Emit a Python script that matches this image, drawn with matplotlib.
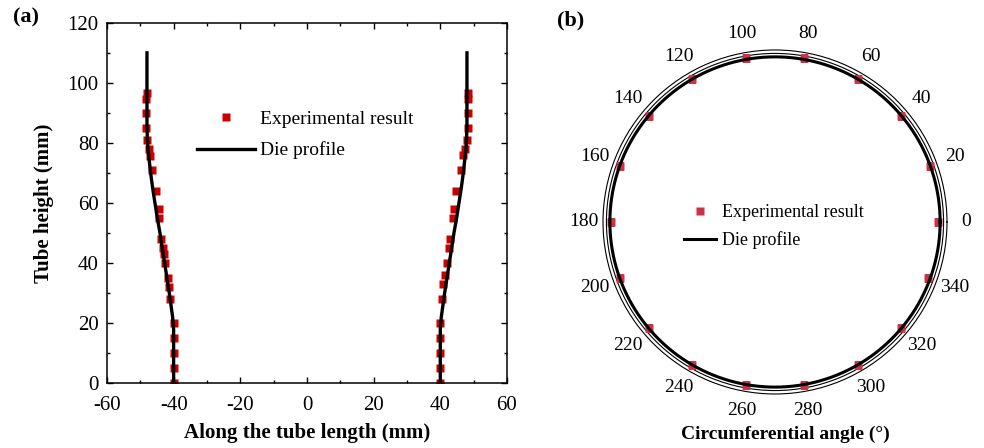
import numpy as np
import matplotlib
matplotlib.use('Agg')
import matplotlib.pyplot as plt
from matplotlib.ticker import MultipleLocator, FixedLocator

# ---- panel (a) data: tube profile along height ----
exp_height_left = [0, 5, 10, 15, 20, 28, 32, 35, 40, 43, 45, 48, 55, 58, 64, 71, 75.5, 78, 81, 85, 90, 94.5, 96.5]
exp_x_left = [-40, -40, -40, -40, -40, -41.0, -41.5, -41.8, -42.6, -43.0, -43.3, -43.9, -44.5, -44.3,
              -45.3, -46.5, -47.0, -47.5, -48.0, -48.2, -48.2, -48.2, -48.0]
exp_height_right = [0, 5, 10, 15, 20, 28, 33, 36, 40, 45, 48, 55, 58, 64, 71, 76, 78, 81, 85, 90, 94.5, 96.5]
exp_x_right = [40, 40, 40, 40, 40, 40.4, 40.9, 41.4, 41.9, 42.5, 42.8, 43.8, 44.1, 44.7,
               46.2, 46.9, 47.4, 48.1, 48.3, 48.3, 48.3, 48.2]

die_height = [0, 10, 18, 22, 26, 30, 35, 40, 45, 50, 55, 60, 65, 70, 74, 78, 82, 86, 90, 100, 110]
die_x = [40, 40, 40, 40.3, 40.8, 41.3, 42.0, 42.7, 43.4, 44.1, 44.9, 45.6, 46.3, 46.9, 47.3, 47.7,
         47.9, 48.0, 48.0, 48.0, 48.0]

# ---- panel (b) data: circumferential profile ----
exp_angle = [0, 20, 40, 60, 80, 100, 120, 140, 160, 180, 200, 220, 240, 260, 280, 300, 320, 340]
exp_radius = [47.5, 47.9, 48.0, 48.1, 48.3, 48.3, 48.0, 47.9, 47.8, 47.6, 47.8, 48.0, 48.1, 48.2,
              48.2, 48.0, 47.9, 47.3]
die_radius = 48
angle_labels = [str(a) for a in range(0, 360, 20)]

plt.rcParams['font.family'] = ['Liberation Serif', 'DejaVu Serif']
plt.rcParams['axes.unicode_minus'] = False

fig = plt.figure(figsize=(9.84, 4.48), dpi=100)

# ================= (a) =================
ax1 = fig.add_axes([0.1087, 0.145, 0.4065, 0.804])
ax1.plot(exp_x_left, exp_height_left, 's', color='#cc0000', markersize=6, mec='none',
         label='Experimental result')
ax1.plot(exp_x_right, exp_height_right, 's', color='#cc0000', markersize=6, mec='none')
ax1.plot([-v for v in die_x], die_height, color='black', linewidth=2.4, label='Die profile')
ax1.plot(die_x, die_height, color='black', linewidth=2.4)

ax1.set_xlim(-60, 60)
ax1.set_ylim(0, 120)
ax1.xaxis.set_major_locator(MultipleLocator(20))
ax1.xaxis.set_minor_locator(MultipleLocator(10))
ax1.yaxis.set_major_locator(MultipleLocator(20))
ax1.yaxis.set_minor_locator(MultipleLocator(10))
ax1.tick_params(which='both', direction='in', top=True, right=True, labelsize=15, width=1)
ax1.tick_params(which='major', length=4.5, pad=6)
ax1.tick_params(which='minor', length=2.5)
ax1.tick_params(axis='x', which='major', pad=9)
for s in ax1.spines.values():
    s.set_linewidth(1.1)
ax1.set_xlabel('Along the tube length (mm)', fontsize=15, fontweight='bold', labelpad=6)
ax1.set_ylabel('Tube height (mm)', fontsize=15, fontweight='bold', labelpad=10)
ax1.legend(loc='upper left', bbox_to_anchor=(0.225, 0.757), frameon=False, fontsize=14,
           handlelength=3.0, handletextpad=0.25, labelspacing=0.7, borderpad=0, borderaxespad=0)

fig.text(0.013, 0.962, '(a)', fontsize=16, fontweight='bold', va='center', ha='left')

# ================= (b) =================
ax2 = fig.add_axes([0.6128, 0.1205, 0.3496, 0.768], projection='polar')
ax2.plot(np.deg2rad(exp_angle), exp_radius, 's', color='#cc3344', markersize=6, mec='none',
         label='Experimental result', zorder=3)
die_theta = np.linspace(0, 2 * np.pi, 361)
ax2.plot(die_theta, np.full_like(die_theta, die_radius), color='black', linewidth=2.2,
         label='Die profile', zorder=4)

ax2.set_ylim(0, 50)
ax2.set_yticks([49])
ax2.set_yticklabels([])
ax2.yaxis.grid(True, color='black', linewidth=0.8)
ax2.xaxis.grid(False)
ax2.set_xticks(np.deg2rad(np.arange(0, 360, 20)))
ax2.set_xticklabels(angle_labels)
ax2.xaxis.set_minor_locator(FixedLocator(np.deg2rad(np.arange(10, 360, 20))))
ax2.tick_params(axis='x', which='major', direction='out', length=4, width=0.8, labelsize=14, pad=3)
ax2.tick_params(axis='x', which='minor', direction='in', length=3.5, width=0.8)
ax2.spines['polar'].set_linewidth(0.8)

fig.text(785 / 984, 1 - 434 / 448, 'Circumferential angle (°)', fontsize=14, fontweight='bold',
         ha='center', va='center')

ax2.legend(loc='upper left', bbox_to_anchor=(0.695, 0.544), bbox_transform=fig.transFigure,
           frameon=False, fontsize=13, handlelength=1.8, handletextpad=0.3, labelspacing=0.55,
           borderpad=0, borderaxespad=0)

fig.text(0.566, 0.955, '(b)', fontsize=16, fontweight='bold', va='center', ha='left')

fig.savefig('out.png', dpi=100)
